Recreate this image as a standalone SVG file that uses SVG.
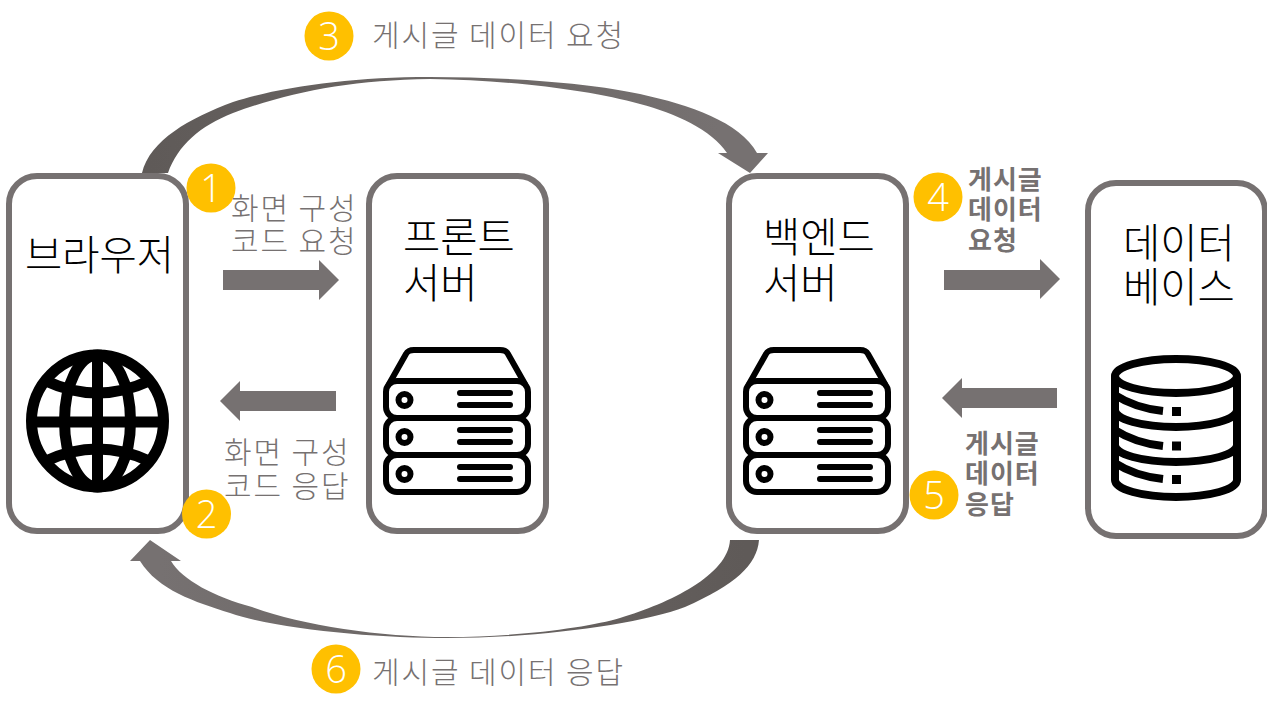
<svg xmlns="http://www.w3.org/2000/svg" xmlns:xlink="http://www.w3.org/1999/xlink" width="1267" height="715" viewBox="0 0 1267 715">
<style>
text{font-family:"Noto Sans CJK KR","Noto Sans",sans-serif}
.box{fill:#fff;stroke:#767171;stroke-width:6}
.ttl{font-size:40.500px;fill:#000;font-weight:300}
.lbl{font-size:30px;fill:#767171;font-weight:300;letter-spacing:1.900px}
.bold{font-size:26px;fill:#767171;font-weight:700;letter-spacing:1px}
.badge{fill:#FFC000}
.num{font-family:"Open Sans","Noto Sans",sans-serif;font-size:38px;fill:#fff;font-weight:300;text-anchor:middle}
.arr{fill:#767171}
.ic{fill:none;stroke:#000;stroke-width:6;stroke-linejoin:round;stroke-linecap:round}
</style>
<defs>
<linearGradient id="gt" gradientUnits="userSpaceOnUse" x1="150" y1="170" x2="720" y2="150"><stop offset="0" stop-color="#5f5a58"/><stop offset="0.45" stop-color="#6a6563"/><stop offset="1" stop-color="#767171"/></linearGradient>
<linearGradient id="gb" gradientUnits="userSpaceOnUse" x1="745" y1="545" x2="160" y2="560"><stop offset="0" stop-color="#5f5a58"/><stop offset="0.5" stop-color="#6a6563"/><stop offset="1" stop-color="#767171"/></linearGradient>
<g id="server">
<path class="ic" d="M389 384 L406 354 Q408 350 414 350 L500 350 Q506 350 508 354 L525 384"/>
<rect class="ic" x="386" y="381" width="142" height="37" rx="11"/>
<rect class="ic" x="386" y="418" width="142" height="37" rx="11"/>
<rect class="ic" x="386" y="455" width="142" height="37" rx="11"/>
<circle class="ic" cx="404.500" cy="400" r="6"/><circle class="ic" cx="404.500" cy="437" r="6"/><circle class="ic" cx="404.500" cy="474" r="6"/>
<path class="ic" d="M460 393H510M460 405H510M460 430H510M460 442H510M460 467H510M460 479H510"/>
</g>
</defs>
<g id="connectors">
<path fill="url(#gt)" d="M142 173 C150 140 190 118 233 102 C280 87 350 77 430 77 C510 77 590 83 640 94 C690 105 740 122 757 153 L768 153 L750 173 L718 153 L727 153 C712 130 675 113 640 104 C590 90 510 80 430 79 C350 80 290 92 233 113 C200 126 178 145 168 173 Z"/>
<path fill="url(#gb)" d="M730 540 L759 540 C757 565 735 585 685 607 C640 624 540 638 447 638 C380 638 280 630 230 613 C195 602 158 590 140 561 L130 561 L150 540 L181 561 L171 561 C182 580 215 597 252 607 C300 625 380 637 447 637 C520 637 590 627 620 618 C670 603 728 575 730 540 Z"/>
<path class="arr" d="M223 270H319V260L339 280L319 300V290H223Z"/>
<path class="arr" d="M336 391H240V381L220 401L240 421V411H336Z"/>
<path class="arr" d="M944 270H1040V259L1060 279L1040 299V290H944Z"/>
<path class="arr" d="M1057 388H962V378L942 398L962 418V408H1057Z"/>
</g>
<g id="browser">
<rect class="box" x="9" y="176" width="177" height="355" rx="28"/>
<text class="ttl" x="25" y="270">브라우저</text>
<g fill="none" stroke="#000" stroke-width="11">
<circle cx="97.500" cy="421" r="66"/>
<path d="M97.500 355V487M31 422H164"/>
<ellipse cx="97.500" cy="421" rx="33" ry="66"/>
<path d="M46 381 Q97.500 405 149 381M46 461 Q97.500 437 149 461"/>
</g>
</g>
<g id="front">
<rect class="box" x="369" y="176" width="177" height="355" rx="28"/>
<text class="ttl" x="403" y="252">프론트</text>
<text class="ttl" x="403" y="298">서버</text>
<use xlink:href="#server" href="#server"/>
</g>
<g id="back">
<rect class="box" x="729" y="176" width="177" height="355" rx="28"/>
<text class="ttl" x="763" y="252">백엔드</text>
<text class="ttl" x="763" y="298">서버</text>
<use xlink:href="#server" href="#server" x="360"/>
</g>
<g id="database">
<rect class="box" x="1088" y="183" width="177" height="353" rx="28"/>
<text class="ttl" x="1123" y="258">데이터</text>
<text class="ttl" x="1123" y="302">베이스</text>
<g fill="none" stroke="#000" stroke-width="8">
<ellipse cx="1176" cy="376" rx="61" ry="17"/>
<path d="M1115 376V480A61 17 0 0 0 1237 480V376"/>
<path d="M1115 410A61 17 0 0 0 1237 410M1115 445A61 17 0 0 0 1237 445"/>
<path d="M1115 395Q1135 408 1163 411M1115 430Q1135 443 1163 446M1115 463Q1135 476 1163 479"/>
</g>
<path d="M1172 407h9v9h-9zM1172 441.500h9v9h-9zM1172 475h9v9h-9z"/>
</g>
<g id="step1"><circle class="badge" cx="211" cy="188" r="24.500"/><text class="num" x="211" y="202">1</text>
<text class="lbl" x="231" y="219">화면 구성</text><text class="lbl" x="231" y="252">코드 요청</text></g>
<g id="step2"><circle class="badge" cx="206.500" cy="514" r="24.500"/><text class="num" x="206.500" y="528">2</text>
<text class="lbl" x="224" y="463">화면 구성</text><text class="lbl" x="224" y="497">코드 응답</text></g>
<g id="step3"><circle class="badge" cx="329" cy="36" r="24.500"/><text class="num" x="329" y="50">3</text>
<text class="lbl" x="372" y="46">게시글 데이터 요청</text></g>
<g id="step4"><circle class="badge" cx="938" cy="197" r="24.500"/><text class="num" x="938" y="211">4</text>
<text class="bold" x="968" y="189">게시글</text><text class="bold" x="968" y="219">데이터</text><text class="bold" x="968" y="250">요청</text></g>
<g id="step5"><circle class="badge" cx="934" cy="495" r="24.500"/><text class="num" x="934" y="509">5</text>
<text class="bold" x="965" y="453">게시글</text><text class="bold" x="965" y="483">데이터</text><text class="bold" x="965" y="514">응답</text></g>
<g id="step6"><circle class="badge" cx="336" cy="669" r="24.500"/><text class="num" x="336" y="683">6</text>
<text class="lbl" x="372" y="683">게시글 데이터 응답</text></g>
</svg>
